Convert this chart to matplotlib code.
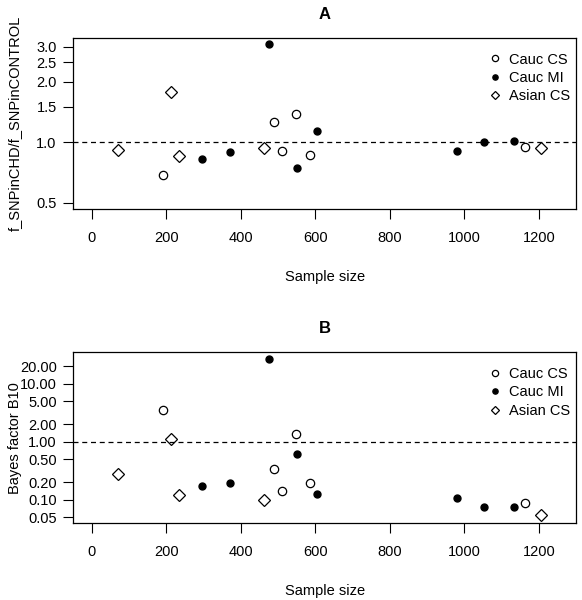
import matplotlib
matplotlib.use('Agg')
import matplotlib.pyplot as plt
import numpy as np

plt.rcParams['font.family'] = ['Liberation Sans', 'DejaVu Sans']

# sample sizes per group
n_cauc_cs = [192, 489, 509, 548, 586, 1163]
n_cauc_mi = [296, 371, 474, 551, 603, 981, 1052, 1134]
n_asian_cs = [71, 211, 234, 462, 1205]

# panel A: frequency ratio
ratio_cauc_cs = [0.69, 1.26, 0.905, 1.39, 0.86, 0.947]
ratio_cauc_mi = [0.823, 0.895, 3.08, 0.745, 1.14, 0.908, 1.0, 1.015]
ratio_asian_cs = [0.912, 1.78, 0.855, 0.94, 0.937]

# panel B: Bayes factor
bf_cauc_cs = [3.56, 0.334, 0.14, 1.34, 0.192, 0.087]
bf_cauc_mi = [0.172, 0.192, 26.7, 0.614, 0.124, 0.108, 0.074, 0.075]
bf_asian_cs = [0.274, 1.11, 0.122, 0.099, 0.0545]

xticks = [0, 200, 400, 600, 800, 1000, 1200]
yticks_a = [0.5, 1.0, 1.5, 2.0, 2.5, 3.0]
yticks_b = [0.05, 0.10, 0.20, 0.50, 1.00, 2.00, 5.00, 10.00, 20.00]

fig = plt.figure(figsize=(5.82, 6.0), dpi=100)
ax1 = fig.add_axes([0.126, 0.6517, 0.864, 0.285])
ax2 = fig.add_axes([0.126, 0.1283, 0.864, 0.2845])


def draw(ax, cs, mi, asn, title, ylabel, yticks, ylim, fmt):
    ax.plot(n_cauc_cs, cs, 'o', mfc='white', mec='black', mew=0.9, ms=6, label='Cauc CS')
    ax.plot(n_cauc_mi, mi, 'o', mfc='black', mec='black', ms=5, label='Cauc MI')
    ax.plot(n_asian_cs, asn, 'D', mfc='white', mec='black', mew=0.9, ms=6, label='Asian CS')
    ax.axhline(1.0, color='black', linestyle=(0, (4, 3)), linewidth=0.9)
    ax.set_yscale('log')
    ax.set_ylim(*ylim)
    ax.set_xlim(-50, 1300)
    ax.set_yticks(yticks)
    ax.set_yticklabels([fmt % v for v in yticks])
    ax.yaxis.set_minor_locator(matplotlib.ticker.NullLocator())
    ax.set_xticks(xticks)
    ax.tick_params(direction='out', length=7, width=0.8, labelsize=10.5, pad=5)
    ax.tick_params(axis='x', pad=9)
    for s in ax.spines.values():
        s.set_linewidth(0.9)
    ax.set_title(title, fontsize=12, fontweight='bold', pad=14)
    ax.set_xlabel('Sample size', fontsize=10.5, labelpad=18)
    ax.set_ylabel(ylabel, fontsize=10.5)
    ax.yaxis.set_label_coords(-0.102, 0.5)
    ax.legend(loc='upper right', bbox_to_anchor=(1.016, 1.0), frameon=False,
              fontsize=10.5, markerscale=0.75, handletextpad=0.4,
              labelspacing=0.3, borderaxespad=0.6, handlelength=1.0)


draw(ax1, ratio_cauc_cs, ratio_cauc_mi, ratio_asian_cs, 'A',
     'f_SNPinCHD/f_SNPinCONTROL', yticks_a, (0.465, 3.31), '%.1f')
draw(ax2, bf_cauc_cs, bf_cauc_mi, bf_asian_cs, 'B',
     'Bayes factor B10', yticks_b, (0.0397, 34.8), '%.2f')

fig.savefig('out.png', dpi=100)
